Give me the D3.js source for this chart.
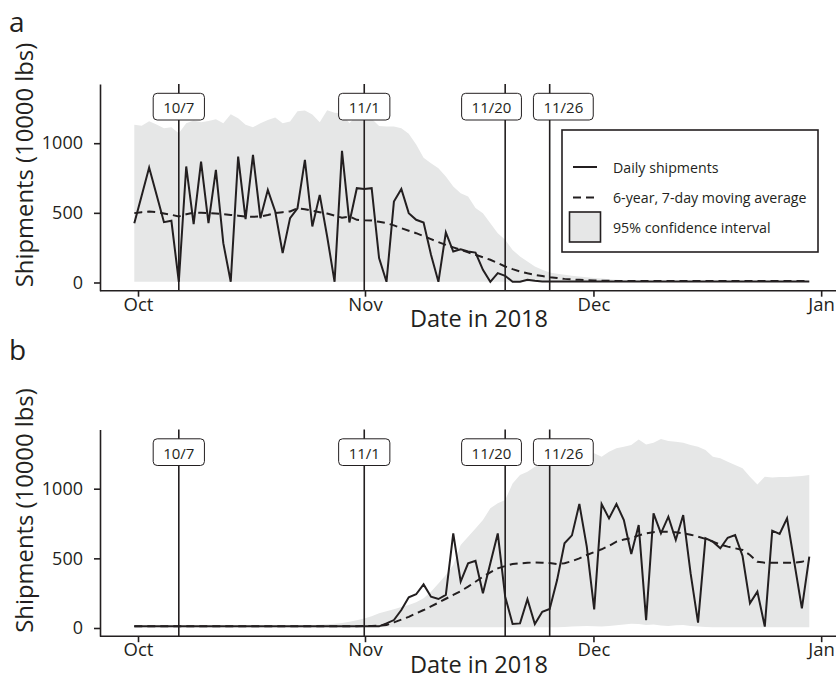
<!DOCTYPE html>
<html><head><meta charset="utf-8">
<script src="https://cdn.jsdelivr.net/npm/d3@7"></script>
<style>body{margin:0;background:#fff}svg{display:block}</style>
</head><body><svg id="c" width="838" height="690"></svg>
<script>
// ---- data (day index 0 = Oct 1 2018, 91 = Dec 31 2018) ----
const tickDays = [0.5, 31.1, 61.9, 92.6];
const tickLabels = ["Oct", "Nov", "Dec", "Jan"];
const yTicks = [0, 500, 1000];
const eventDays = [6, 31, 50, 56];
const eventLabels = ["10/7", "11/1", "11/20", "11/26"];
const legendLabels = ["Daily shipments", "6-year, 7-day moving average", "95% confidence interval"];

const dailyA = [426,625,825,630,433,443,5,833,419,868,426,809,282,5,904,455,916,462,665,510,
  211,462,533,880,402,629,330,5,945,431,677,672,677,175,5,581,672,498,450,431,
  199,5,359,222,239,222,215,91,5,67,48,5,5,19,12,8,8,8,8,8,
  8,8,8,8,8,8,8,8,8,8,8,8,8,8,8,8,8,8,8,8,
  8,8,8,8,8,8,8,8,8,8,8,8];
const avgA = [498,505,510,505,495,486,474,490,502,500,498,495,490,485,480,474,472,474,485,498,
  505,510,533,526,515,505,495,480,465,474,450,446,445,436,426,410,390,372,354,333,
  311,290,270,252,234,216,199,181,163,140,115,96,79,66,55,46,38,32,26,22,
  19,17,15,13,12,11,10,10,10,10,10,10,10,10,10,10,10,10,10,10,
  10,10,10,10,10,10,10,10,10,10,10,10];
const upperA = [1132,1125,1157,1135,1108,1115,1072,1144,1163,1151,1160,1172,1144,1208,1179,1132,1115,1144,1167,1184,
  1144,1155,1230,1234,1206,1151,1237,1218,1215,1144,1200,1190,1175,1124,1120,1120,1108,1067,990,895,
  856,820,761,689,641,617,534,498,426,354,306,234,187,151,115,91,72,62,55,48,
  43,38,33,28,24,20,17,15,13,12,10,10,10,10,10,10,10,10,10,10,
  10,10,10,10,10,10,10,10,10,10,10,10];
const lowerA = [5,5,5,5,5,5,5,5,5,5,5,5,5,5,5,5,5,5,5,5,
  5,5,5,5,5,5,5,5,5,5,5,5,5,5,5,5,5,5,5,5,
  5,5,5,5,5,5,5,5,5,5,5,5,5,5,5,5,5,5,5,5,
  5,5,5,5,5,5,5,5,5,5,5,5,5,5,5,5,5,5,5,5,
  5,5,5,5,5,5,5,5,5,5,5,5];

const dailyB = [12,12,12,12,12,12,12,12,12,12,12,12,12,12,12,12,12,12,12,12,
  12,12,12,12,12,12,12,12,12,12,12,12,12,12,33,57,129,220,242,313,
  225,208,237,679,333,464,483,249,464,679,225,29,33,206,29,117,136,344,608,665,
  890,584,134,890,787,890,775,531,739,57,823,679,799,632,811,392,38,644,620,572,
  648,667,517,177,261,10,699,675,787,464,141,512];
const avgB = [12,12,12,12,12,12,12,12,12,12,12,12,12,12,12,12,12,12,12,12,
  12,12,12,12,12,12,12,12,12,12,13,14,15,16,21,40,60,80,105,129,
  155,182,210,237,265,297,332,368,400,428,445,459,464,468,471,469,466,459,465,480,
  500,524,545,565,590,620,635,644,665,679,688,691,690,687,679,670,656,640,620,600,
  584,572,560,524,476,469,468,469,469,469,475,493];
const upperB = [15,15,15,15,15,15,15,15,15,15,15,15,15,15,15,15,15,15,15,15,
  15,15,15,18,20,23,27,31,36,45,55,69,85,105,120,134,150,165,185,213,
  260,320,380,452,596,655,715,775,859,895,919,1038,1098,1122,1158,1170,1182,1190,1200,1215,
  1235,1250,1254,1230,1265,1290,1301,1313,1354,1318,1330,1356,1342,1337,1330,1313,1301,1277,1230,1218,
  1194,1170,1146,1086,1031,1086,1081,1084,1084,1088,1091,1098];
const lowerB = [5,5,5,5,5,5,5,5,5,5,5,5,5,5,5,5,5,5,5,5,
  5,5,5,5,5,5,5,5,5,5,5,5,5,5,5,5,5,5,5,5,
  5,5,5,5,5,5,5,5,5,5,5,5,5,5,5,5,5,5,8,10,
  12,14,12,10,15,20,25,30,28,22,25,18,15,20,22,15,10,8,5,5,
  5,5,5,5,5,5,5,5,5,5,5,5];

// ---- drawing ----
const svg = d3.select("#c");
const FONT = "'Open Sans', 'Noto Sans', sans-serif";
const INK = "#231f20";
const BAND = "#e6e7e7";
const DASH = "8,5";

const x = d3.scaleLinear().domain([0, 91]).range([134.3, 809.3]);
const axisLeftX = 100, axisRightX = 836;

function panel(off, letter, letterY, daily, avg, upper, lower, withLegend) {
  const g = svg.append("g").attr("transform", `translate(0,${off})`);
  const y = d3.scaleLinear().domain([-58.9, 1425]).range([290.7, 84]);
  const idx = d3.range(daily.length);

  g.append("path").datum(idx)
    .attr("d", d3.area().x(i => x(i)).y0(i => y(lower[i])).y1(i => y(upper[i])))
    .attr("fill", BAND);

  g.selectAll("line.ev").data(eventDays).join("line")
    .attr("x1", d => x(d)).attr("x2", d => x(d))
    .attr("y1", 84).attr("y2", 290.7)
    .attr("stroke", INK).attr("stroke-width", 1.6);

  g.append("path").datum(idx)
    .attr("d", d3.line().x(i => x(i)).y(i => y(avg[i])))
    .attr("fill", "none").attr("stroke", INK).attr("stroke-width", 2)
    .attr("stroke-dasharray", DASH);
  g.append("path").datum(idx)
    .attr("d", d3.line().x(i => x(i)).y(i => y(daily[i])))
    .attr("fill", "none").attr("stroke", INK).attr("stroke-width", 2)
    .attr("stroke-linejoin", "miter");

  const boxes = eventDays.map((d, i) => ({ c: x(d), label: eventLabels[i] }));
  const tg = g.selectAll("g.box").data(boxes).join("g");
  const txt = tg.append("text").text(d => d.label)
    .attr("font-family", FONT).attr("font-size", 15).attr("fill", INK)
    .attr("text-anchor", "middle").attr("dominant-baseline", "central");
  txt.each(function (d) { d.w = this.getComputedTextLength() + 20; });
  for (let k = 0; k < 20; k++) {
    for (let i = 0; i < boxes.length - 1; i++) {
      const a = boxes[i], b = boxes[i + 1];
      const need = (a.w + b.w) / 2 + 12;
      const gap = b.c - a.c;
      if (gap < need) { const s = (need - gap) / 2; a.c -= s; b.c += s; }
    }
  }
  tg.insert("rect", "text")
    .attr("x", d => d.c - d.w / 2).attr("y", 93.3).attr("width", d => d.w).attr("height", 26.7)
    .attr("rx", 4).attr("fill", "#fff").attr("stroke", INK).attr("stroke-width", 1);
  txt.attr("x", d => d.c).attr("y", 107);

  const ya = g.append("g").attr("transform", `translate(${axisLeftX},0)`)
    .call(d3.axisLeft(y).tickValues(yTicks).tickFormat(d3.format("d"))
      .tickSize(6).tickSizeOuter(0).tickPadding(11));
  ya.select(".domain").attr("stroke", INK).attr("stroke-width", 1.6);
  ya.selectAll(".tick line").attr("stroke", INK).attr("stroke-width", 1.6);
  ya.selectAll(".tick text").attr("font-family", FONT).attr("font-size", 18).attr("fill", INK);

  const xa = g.append("g").attr("transform", `translate(0,290.7)`)
    .call(d3.axisBottom(x).tickValues(tickDays).tickFormat((d, i) => tickLabels[i])
      .tickSize(6).tickSizeOuter(0).tickPadding(1));
  xa.select(".domain").attr("d", `M${axisLeftX},0H${axisRightX}`).attr("stroke", INK).attr("stroke-width", 1.6);
  xa.selectAll(".tick line").attr("stroke", INK).attr("stroke-width", 1.6);
  xa.selectAll(".tick text").attr("font-family", FONT).attr("font-size", 18.5).attr("fill", INK);

  g.append("text").text("Date in 2018").attr("x", 479).attr("y", 327)
    .attr("text-anchor", "middle").attr("font-family", FONT).attr("font-size", 23.5).attr("fill", INK);
  g.append("text").text("Shipments (10000 lbs)")
    .attr("transform", "translate(33,165) rotate(-90)")
    .attr("text-anchor", "middle").attr("font-family", FONT).attr("font-size", 23.8).attr("fill", INK);
  g.append("text").text(letter).attr("x", 9).attr("y", letterY)
    .attr("font-family", FONT).attr("font-size", 28).attr("fill", INK);

  if (withLegend) {
    const L = g.append("g");
    L.append("rect").attr("x", 562).attr("y", 130).attr("width", 256).attr("height", 122)
      .attr("fill", "#fff").attr("stroke", INK).attr("stroke-width", 1.6);
    const rowsY = [167, 197.5, 227];
    L.append("line").attr("x1", 573).attr("x2", 597).attr("y1", rowsY[0]).attr("y2", rowsY[0])
      .attr("stroke", INK).attr("stroke-width", 2);
    L.append("line").attr("x1", 573).attr("x2", 597).attr("y1", rowsY[1]).attr("y2", rowsY[1])
      .attr("stroke", INK).attr("stroke-width", 2).attr("stroke-dasharray", DASH);
    L.append("rect").attr("x", 569.5).attr("y", 212).attr("width", 31).attr("height", 30)
      .attr("fill", BAND).attr("stroke", INK).attr("stroke-width", 1.6);
    L.selectAll("text").data(legendLabels).join("text").text(d => d)
      .attr("x", 613).attr("y", (d, i) => rowsY[i])
      .attr("dominant-baseline", "central")
      .attr("font-family", FONT).attr("font-size", 14.2).attr("fill", INK);
  }
}

panel(0, "a", 32, dailyA, avgA, upperA, lowerA, true);
panel(345.5, "b", 14.5, dailyB, avgB, upperB, lowerB, false);
</script></body></html>
